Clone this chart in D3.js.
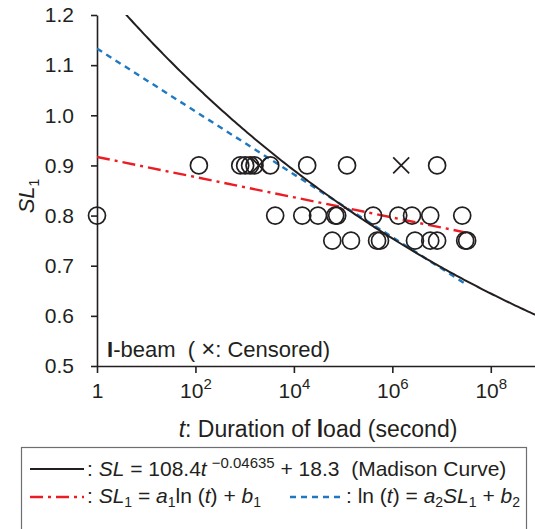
<!DOCTYPE html>
<html>
<head>
<meta charset="utf-8">
<script src="https://cdn.jsdelivr.net/npm/d3@7"></script>
<style>
  body { margin: 0; background: #fff; }
  svg { display: block; font-family: "Liberation Sans", Arial, sans-serif; }
</style>
</head>
<body>
<svg id="chart" width="535" height="529"></svg>
<script>
// observed points: [log10(t), SL1]
var failed = [
    [0, 0.8],
    [2.07, 0.9], [2.91, 0.9], [3.01, 0.9], [3.11, 0.9], [3.2, 0.9], [3.52, 0.9],
    [4.27, 0.9], [5.08, 0.9], [6.91, 0.9],
    [3.62, 0.8], [4.17, 0.8], [4.49, 0.8], [4.84, 0.8], [4.88, 0.8], [5.61, 0.8],
    [6.12, 0.8], [6.40, 0.8], [6.77, 0.8], [7.42, 0.8],
    [4.78, 0.75], [5.16, 0.75], [5.69, 0.75], [5.75, 0.75], [6.46, 0.75],
    [6.77, 0.75], [6.91, 0.75], [7.48, 0.75], [7.52, 0.75]
];
var censored = [[3.29, 0.9], [6.18, 0.9]];

// Madison curve coefficients (SL in %)
var madison = { a: 108.4, b: -0.04635, c: 18.3 };
// fitted lines, end points [log10(t), SL1]
var redLine = [[0, 0.917], [7.5, 0.766]];
var blueLine = [[0, 1.133], [7.5, 0.663]];

var yTicks = [0.5, 0.6, 0.7, 0.8, 0.9, 1.0, 1.1, 1.2];
var xTicks = [0, 2, 4, 6, 8];

var svg = d3.select("#chart");
var ink = "#231f20";
var font = "'Liberation Sans', Arial, sans-serif";

var x = d3.scaleLog().domain([1, 1e9]).range([97, 540]);
var y = d3.scaleLinear().domain([0.5, 1.2]).range([366, 15]);

svg.append("clipPath").attr("id", "plotclip")
    .append("rect").attr("x", 97).attr("y", 15).attr("width", 450).attr("height", 351);

// axes
var yAxis = svg.append("g")
    .attr("transform", "translate(97,0)")
    .call(d3.axisLeft(y).tickValues(yTicks).tickSize(6).tickSizeOuter(0).tickPadding(17)
        .tickFormat(d3.format(".1f")));
var xAxis = svg.append("g")
    .attr("transform", "translate(0,366)")
    .call(d3.axisBottom(x).tickValues(xTicks.map(e => Math.pow(10, e))).tickSize(7)
        .tickSizeOuter(0).tickFormat(""));

[yAxis, xAxis].forEach(function (g) {
    g.select(".domain").attr("stroke", ink).attr("stroke-width", 1.6);
    g.selectAll(".tick line").attr("stroke", ink).attr("stroke-width", 1.6);
    g.selectAll("text").attr("font-size", 21).attr("fill", ink).attr("font-family", font);
});

// x tick labels with exponents
xAxis.selectAll(".tick").each(function (d) {
    var e = Math.round(Math.log10(d));
    var t = d3.select(this).select("text").attr("y", 17).attr("dy", "0.71em");
    if (e == 0) {
        t.text("1");
    } else {
        t.append("tspan").text("10");
        t.append("tspan").attr("font-size", 15).attr("dy", "-0.6em").text(e);
    }
});

// lines
var line = d3.line().x(d => x(Math.pow(10, d[0]))).y(d => y(d[1]));
var plot = svg.append("g").attr("clip-path", "url(#plotclip)");

var madisonPts = d3.range(0, 9.05, 0.05).map(function (e) {
    return [e, (madison.a * Math.pow(10, e * madison.b) + madison.c) / 100];
});

plot.append("path").attr("d", line(blueLine)).attr("fill", "none")
    .attr("stroke", "#1f78c1").attr("stroke-width", 2.4).attr("stroke-dasharray", "6,5");
plot.append("path").attr("d", line(redLine)).attr("fill", "none")
    .attr("stroke", "#ec1c24").attr("stroke-width", 2.4).attr("stroke-dasharray", "13,5,3,5");
plot.append("path").attr("d", line(madisonPts)).attr("fill", "none")
    .attr("stroke", ink).attr("stroke-width", 2);

// points
svg.append("g").selectAll("circle")
    .data(failed)
    .join("circle")
    .attr("cx", d => x(Math.pow(10, d[0])))
    .attr("cy", d => y(d[1]))
    .attr("r", 8.5)
    .attr("fill", "none")
    .attr("stroke", ink)
    .attr("stroke-width", 1.7);

svg.append("g").selectAll("path")
    .data(censored)
    .join("path")
    .attr("d", function (d) {
        var cx = x(Math.pow(10, d[0])), cy = y(d[1]), s = 8;
        return `M${cx - s},${cy - s}L${cx + s},${cy + s}M${cx - s},${cy + s}L${cx + s},${cy - s}`;
    })
    .attr("stroke", ink)
    .attr("stroke-width", 1.7);

// annotation
var ann = svg.append("text").attr("x", 107).attr("y", 357).attr("font-size", 22).attr("fill", ink);
ann.append("tspan").attr("font-weight", "bold").text("I");
ann.append("tspan").text("-beam\u00a0\u00a0(\u00a0");
ann.append("tspan").text("\u00d7").attr("font-size", 24);
ann.append("tspan").text(": Censored)");

// axis titles
var xt = svg.append("text").attr("x", 318).attr("y", 437).attr("text-anchor", "middle")
    .attr("font-size", 23).attr("fill", ink);
xt.append("tspan").attr("font-style", "italic").text("t");
xt.append("tspan").text(": Duration of ");
xt.append("tspan").attr("font-weight", "bold").text("l");
xt.append("tspan").text("oad (second)");

var yt = svg.append("text").attr("transform", "translate(34,196) rotate(-90)")
    .attr("text-anchor", "middle").attr("font-size", 22).attr("fill", ink);
yt.append("tspan").attr("font-style", "italic").text("SL");
yt.append("tspan").attr("font-size", 14).attr("dy", 5).text("1");

// legend
svg.append("rect").attr("x", 21.5).attr("y", 447.5).attr("width", 505).attr("height", 90)
    .attr("fill", "none").attr("stroke", "#6d6e71").attr("stroke-width", 1.2);

function legLine(x0, x1, yy, color, dash, w) {
    svg.append("line").attr("x1", x0).attr("x2", x1).attr("y1", yy).attr("y2", yy)
        .attr("stroke", color).attr("stroke-width", w).attr("stroke-dasharray", dash);
}
legLine(30, 84, 469, ink, null, 2.2);
legLine(30, 84, 497, "#ec1c24", "13,5,3,5", 2.4);
legLine(290, 344, 497, "#1f78c1", "6,5", 2.4);

var l1 = svg.append("text").attr("x", 87).attr("y", 476).attr("font-size", 21).attr("fill", ink);
l1.append("tspan").text(": ");
l1.append("tspan").attr("font-style", "italic").text("SL");
l1.append("tspan").text(" = 108.4");
l1.append("tspan").attr("font-style", "italic").text("t");
l1.append("tspan").attr("font-size", 15).attr("dy", -8).attr("dx", 5).text("\u22120.04635");
l1.append("tspan").attr("dy", 8).text(" + 18.3\u00a0\u00a0(Madison Curve)");

var l2 = svg.append("text").attr("x", 87).attr("y", 503).attr("font-size", 21).attr("fill", ink);
l2.append("tspan").text(": ");
l2.append("tspan").attr("font-style", "italic").text("SL");
l2.append("tspan").attr("font-size", 14).attr("dy", 4).text("1");
l2.append("tspan").attr("dy", -4).text(" = ");
l2.append("tspan").attr("font-style", "italic").text("a");
l2.append("tspan").attr("font-size", 14).attr("dy", 4).text("1");
l2.append("tspan").attr("dy", -4).text("ln (");
l2.append("tspan").attr("font-style", "italic").text("t");
l2.append("tspan").text(") + ");
l2.append("tspan").attr("font-style", "italic").text("b");
l2.append("tspan").attr("font-size", 14).attr("dy", 4).text("1");

var l3 = svg.append("text").attr("x", 346).attr("y", 503).attr("font-size", 21).attr("fill", ink);
l3.append("tspan").text(": ln (");
l3.append("tspan").attr("font-style", "italic").text("t");
l3.append("tspan").text(") = ");
l3.append("tspan").attr("font-style", "italic").text("a");
l3.append("tspan").attr("font-size", 14).attr("dy", 4).text("2");
l3.append("tspan").attr("dy", -4).attr("font-style", "italic").text("SL");
l3.append("tspan").attr("font-size", 14).attr("dy", 4).text("1");
l3.append("tspan").attr("dy", -4).text(" + ");
l3.append("tspan").attr("font-style", "italic").text("b");
l3.append("tspan").attr("font-size", 14).attr("dy", 4).text("2");
</script>
</body>
</html>
